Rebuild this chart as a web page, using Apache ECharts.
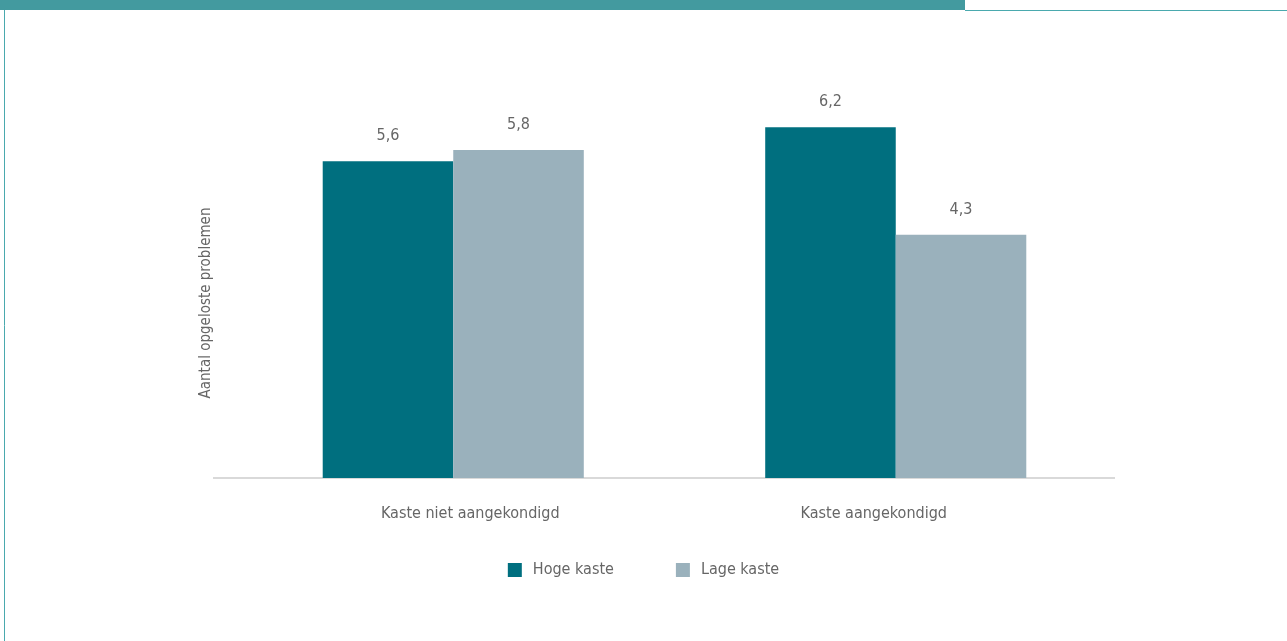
<!DOCTYPE html>
<html>
<head>
<meta charset="utf-8">
<style>
  html, body { margin: 0; padding: 0; background: #fff; }
  #chart { width: 1287px; height: 641px; }
</style>
<script src="https://cdn.jsdelivr.net/npm/echarts@6/dist/echarts.min.js"></script>
</head>
<body>
<div id="chart"></div>
<script>
const categories = ['Kaste niet aangekondigd', 'Kaste aangekondigd'];
const seriesNames = ['Hoge kaste', 'Lage kaste'];
const hogeKaste = [5.6, 6.2];
const lageKaste = [5.8, 4.3];
const yAxisTitle = 'Aantal opgeloste problemen';

const FONT = '"Liberation Sans Narrow", "DejaVu Sans Condensed", "Roboto", sans-serif';
const TEXT = '#666666';
const fmt = v => String(v.value !== undefined ? v.value : v).replace('.', ',');

const chart = echarts.init(document.getElementById('chart'), null, { renderer: 'canvas' });

chart.setOption({
  animation: false,
  backgroundColor: '#ffffff',
  textStyle: { fontFamily: FONT },
  grid: { left: 232, right: 170, top: 82, bottom: 163 },
  graphic: [
    // header band and frame
    { type: 'rect', shape: { x: 0, y: 0, width: 965, height: 10 }, style: { fill: '#439a9f' }, silent: true },
    { type: 'line', shape: { x1: 965, y1: 10.5, x2: 1287, y2: 10.5 }, style: { stroke: '#4aa9ae', lineWidth: 1 }, silent: true },
    { type: 'line', shape: { x1: 4.5, y1: 10, x2: 4.5, y2: 641 }, style: { stroke: '#4aa9ae', lineWidth: 1 }, silent: true },
    // baseline
    { type: 'line', shape: { x1: 213, y1: 478, x2: 1115, y2: 478 }, style: { stroke: '#d9d9d9', lineWidth: 2 }, silent: true, z: 1 },
    // vertical axis title
    {
      type: 'text', x: 206, y: 303, rotation: Math.PI / 2,
      style: { text: yAxisTitle, fill: TEXT, font: '15px ' + FONT, align: 'center', verticalAlign: 'middle' },
      silent: true
    }
  ],
  legend: {
    data: seriesNames,
    bottom: 58,
    left: 'center',
    itemWidth: 14,
    itemHeight: 14,
    itemGap: 62,
    icon: 'rect',
    textStyle: { color: TEXT, fontSize: 16, fontFamily: FONT, padding: [0, 0, 0, 6] }
  },
  xAxis: {
    type: 'category',
    data: categories,
    axisLine: { show: false },
    axisTick: { show: false },
    axisLabel: {
      margin: 28,
      color: TEXT,
      fontSize: 16,
      fontFamily: FONT,
      formatter: (v, i) => i === 0 ? '{a|' + v + '}' : '{b|' + v + '}',
      rich: {
        a: { color: TEXT, fontSize: 16, fontFamily: FONT, padding: [0, 0, 0, 34] },
        b: { color: TEXT, fontSize: 16, fontFamily: FONT, padding: [0, 44, 0, 0] }
      }
    }
  },
  yAxis: {
    type: 'value',
    min: 0,
    max: 7,
    show: false
  },
  series: [
    {
      name: seriesNames[0],
      type: 'bar',
      data: hogeKaste,
      barGap: '0%',
      barCategoryGap: '41%',
      itemStyle: { color: '#006f7f' },
      label: { show: true, position: 'top', distance: 17, color: TEXT, fontSize: 16, fontFamily: FONT, formatter: fmt }
    },
    {
      name: seriesNames[1],
      type: 'bar',
      data: lageKaste,
      itemStyle: { color: '#9ab1bc' },
      label: { show: true, position: 'top', distance: 17, color: TEXT, fontSize: 16, fontFamily: FONT, formatter: fmt }
    }
  ]
});
</script>
</body>
</html>
